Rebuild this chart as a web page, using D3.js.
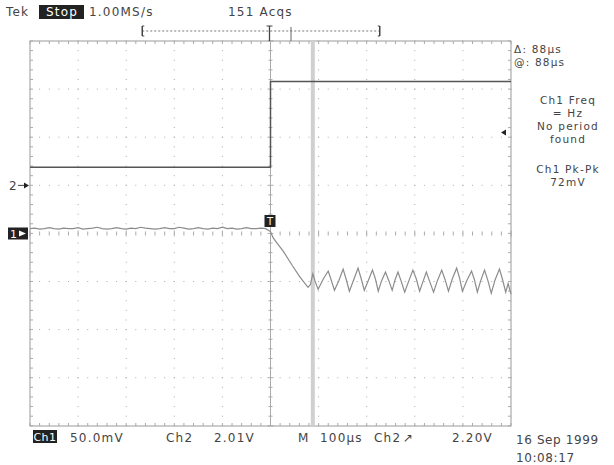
<!DOCTYPE html>
<html><head><meta charset="utf-8">
<script src="https://cdn.jsdelivr.net/npm/d3@7"></script>
<style>body{margin:0;background:#fff}svg{display:block}text{font-family:"DejaVu Sans",sans-serif;fill:#444;letter-spacing:1.2px}</style>
</head><body>
<script>
// ---- data ----
const timeRange = [-500, 500];            // µs, 100 µs/div
const ch1Range = [-200, 200];             // mV, 50 mV/div, ground at centre
const ch2Range = [-10, 6];                // V, 2 V/div, ground one div above centre
const ch1Time = [-500,-490,-480,-470,-460,-450,-440,-430,-420,-410,-400,-390,-380,-370,-360,-350,-340,-330,-320,-310,-300,-290,-280,-270,-260,-250,-240,-230,-220,-210,-200,-190,-180,-170,-160,-150,-140,-130,-120,-110,-100,-90,-80,-70,-60,-50,-40,-30,-20,-10,
  0,5,12,26,45,61,78,83,88,93,99,110,120,126,133,142,151,157,164,173,182,188,195,204,212,218,224,231,239,246,253,259,265,272,279,287,296,303,310,317,324,331,339,347,356,363,370,378,387,393,399,408,418,424,430,437,445,452,459,467,476,482,489,494,500];
const ch1mV = [5,5.5,4.5,5,6,5,4.5,5.5,5,5,6,4.5,5,5.5,6.5,5,4.5,5,6,5,4.5,5.5,5,6.5,5.5,5,4.5,5,6,5,5,6.5,5.5,4.5,5,6,5,4.5,5.5,5,6.5,5,5.5,4.5,5,6,5,5,5.5,5,
  2,-4,-9,-18,-33,-45,-56,-53,-42,-50,-58,-47,-39,-48,-59,-49,-37,-47,-60,-48,-36,-46,-59,-48,-38,-47,-60,-49,-40,-49,-59,-48,-40,-50,-61,-50,-38,-47,-60,-50,-40,-50,-61,-49,-38,-48,-60,-47,-36,-46,-60,-49,-39,-48,-61,-49,-38,-49,-62,-48,-37,-47,-61,-52,-63];
const ch2Time = [-500, 0, 0, 500];
const ch2Volts = [0.75, 0.75, 4.32, 4.32];
const cursorTimes = [0, 88];
const triggerLevel = 2.20;
const recordBracket = [-250, 250];
const topTexts = ["Tek", "Stop", "1.00MS/s", "151 Acqs"];
const rightTexts = ["Δ: 88µs", "@: 88µs", "Ch1 Freq", "= Hz", "No period", "found", "Ch1 Pk-Pk", "72mV"];
const bottomTexts = ["Ch1", "50.0mV", "Ch2", "2.01V", "M", "100µs", "Ch2", "↗", "2.20V"];
const dateTexts = ["16 Sep 1999", "10:08:17"];

// ---- drawing ----
const W = 614, H = 465;
const L = 30, R = 511, T = 41, B = 426;
const svg = d3.select("body").append("svg").attr("width", W).attr("height", H);
const x = d3.scaleLinear().domain(timeRange).range([L, R]);
const y1 = d3.scaleLinear().domain(ch1Range).range([B, T]);
const y2 = d3.scaleLinear().domain(ch2Range).range([B, T]);
const div = (R - L) / 10;
const minor = div / 5;

const g = svg.append("g");
const majX = d3.range(1, 10).filter(k => k !== 5).map(k => L + k * div);
const majY = d3.range(1, 8).filter(k => k !== 4).map(k => T + k * div);
const minXs = d3.range(0, 51).map(k => L + k * minor);
const minYs = d3.range(0, 41).map(k => T + k * minor);
majX.forEach(px => minYs.forEach(py => g.append("rect").attr("x", px - 0.5).attr("y", py - 0.5).attr("width", 1).attr("height", 1).attr("fill", "#aaa")));
majY.forEach(py => minXs.forEach(px => g.append("rect").attr("x", px - 0.5).attr("y", py - 0.5).attr("width", 1).attr("height", 1).attr("fill", "#aaa")));
const cx = x(0), cy = y1(0);
minXs.forEach((px, i) => g.append("line").attr("x1", px).attr("x2", px).attr("y1", cy - (i % 5 ? 2 : 3)).attr("y2", cy + (i % 5 ? 2 : 3)).attr("stroke", "#aaa"));
minYs.forEach((py, i) => g.append("line").attr("y1", py).attr("y2", py).attr("x1", cx - (i % 5 ? 2 : 3)).attr("x2", cx + (i % 5 ? 2 : 3)).attr("stroke", "#aaa"));
g.append("rect").attr("x", L).attr("y", T).attr("width", R - L).attr("height", B - T).attr("fill", "none").attr("stroke", "#999");
minXs.forEach(px => {
  g.append("line").attr("x1", px).attr("x2", px).attr("y1", T).attr("y2", T + 3).attr("stroke", "#aaa");
  g.append("line").attr("x1", px).attr("x2", px).attr("y1", B).attr("y2", B - 3).attr("stroke", "#aaa");
});
minYs.forEach(py => {
  g.append("line").attr("y1", py).attr("y2", py).attr("x1", L).attr("x2", L + 3).attr("stroke", "#aaa");
  g.append("line").attr("y1", py).attr("y2", py).attr("x1", R).attr("x2", R - 3).attr("stroke", "#aaa");
});

// cursors
svg.append("line").attr("x1", x(cursorTimes[1])).attr("x2", x(cursorTimes[1])).attr("y1", T).attr("y2", B).attr("stroke", "#d0d0d0").attr("stroke-width", 4);
svg.append("line").attr("x1", x(cursorTimes[0])).attr("x2", x(cursorTimes[0])).attr("y1", T).attr("y2", B).attr("stroke", "#aaa").attr("stroke-width", 1);

// traces
const ch1 = ch1Time.map((t, i) => [t, ch1mV[i]]);
svg.append("path").attr("d", d3.line().x(d => x(d[0])).y(d => y1(d[1]))(ch1)).attr("fill", "none").attr("stroke", "#8c8c8c").attr("stroke-width", 1.2);
const ch2 = ch2Time.map((t, i) => [t, ch2Volts[i]]);
svg.append("path").attr("d", d3.line().x(d => x(d[0])).y(d => y2(d[1]))(ch2)).attr("fill", "none").attr("stroke", "#555").attr("stroke-width", 1.5);

// trigger marker on ch1 trace
svg.append("rect").attr("x", x(0) - 6).attr("y", 215).attr("width", 11).attr("height", 12).attr("fill", "#222");
svg.append("text").attr("x", x(0) - 0.5).attr("y", 225).attr("text-anchor", "middle").attr("font-size", 10).style("letter-spacing", "0").style("fill", "#fff").text("T");

// channel ground markers
svg.append("rect").attr("x", 8).attr("y", y1(0) - 6).attr("width", 20).attr("height", 12).attr("fill", "#222");
svg.append("text").attr("x", 10).attr("y", y1(0) + 4.5).attr("font-size", 11).style("fill", "#fff").text("1");
svg.append("path").attr("d", `M${19},${y1(0) - 3}L${26},${y1(0)}L${19},${y1(0) + 3}Z`).attr("fill", "#fff");
svg.append("text").attr("x", 9).attr("y", y2(0) + 4.5).attr("font-size", 12).text("2");
svg.append("line").attr("x1", 18).attr("x2", 26).attr("y1", y2(0)).attr("y2", y2(0)).attr("stroke", "#444");
svg.append("path").attr("d", `M${24},${y2(0) - 3}L${29},${y2(0)}L${24},${y2(0) + 3}Z`).attr("fill", "#222");

// trigger level arrow
const ty = y2(triggerLevel);
svg.append("path").attr("d", `M${501},${ty}L${506},${ty - 3}L${506},${ty + 3}Z`).attr("fill", "#222");

// record bracket
const bx0 = x(recordBracket[0]) - 8, bx1 = x(recordBracket[1]) - 11;
const by = 31;
svg.append("line").attr("x1", bx0).attr("x2", bx1).attr("y1", by).attr("y2", by).attr("stroke", "#777").attr("stroke-dasharray", "2,2");
[bx0, bx1].forEach((bx, i) => {
  svg.append("line").attr("x1", bx).attr("x2", bx).attr("y1", by - 5).attr("y2", by + 5).attr("stroke", "#444").attr("stroke-width", 1.5);
  const d = i ? -2 : 2;
  svg.append("line").attr("x1", bx).attr("x2", bx + d).attr("y1", by - 5).attr("y2", by - 5).attr("stroke", "#444");
  svg.append("line").attr("x1", bx).attr("x2", bx + d).attr("y1", by + 5).attr("y2", by + 5).attr("stroke", "#444");
});
svg.append("line").attr("x1", x(0) - 1).attr("x2", x(0) - 1).attr("y1", by - 5).attr("y2", T).attr("stroke", "#444").attr("stroke-width", 1.3);
svg.append("line").attr("x1", x(0) - 4).attr("x2", x(0) + 2).attr("y1", by - 5).attr("y2", by - 5).attr("stroke", "#444");
svg.append("line").attr("x1", 291).attr("x2", 291).attr("y1", by - 4).attr("y2", T).attr("stroke", "#666");

// top texts
const fs = 12;
svg.append("text").attr("x", 6).attr("y", 16).attr("font-size", fs).text(topTexts[0]);
svg.append("rect").attr("x", 39).attr("y", 5).attr("width", 45).attr("height", 14).attr("fill", "#222");
svg.append("text").attr("x", 62).attr("y", 16).attr("text-anchor", "middle").attr("font-size", fs).style("fill", "#fff").text(topTexts[1]);
svg.append("text").attr("x", 89).attr("y", 16).attr("font-size", fs).text(topTexts[2]);
svg.append("text").attr("x", 228).attr("y", 16).attr("font-size", fs).text(topTexts[3]);

// right texts
const rfs = 10.5;
const rt = svg.append("g");
rt.append("text").attr("x", 514).attr("y", 53).attr("font-size", rfs).text(rightTexts[0]);
rt.append("text").attr("x", 514).attr("y", 66).attr("font-size", rfs).text(rightTexts[1]);
[[rightTexts[2], 104], [rightTexts[3], 117], [rightTexts[4], 130], [rightTexts[5], 143], [rightTexts[6], 173], [rightTexts[7], 186]]
  .forEach(([t, yy]) => rt.append("text").attr("x", 568).attr("y", yy).attr("text-anchor", "middle").attr("font-size", rfs).text(t));

// bottom texts
svg.append("rect").attr("x", 33).attr("y", 430).attr("width", 24).attr("height", 13).attr("fill", "#222");
svg.append("text").attr("x", 45).attr("y", 441).attr("text-anchor", "middle").attr("font-size", 11).style("letter-spacing", "0.5px").style("fill", "#fff").text(bottomTexts[0]);
const bpos = [null, 70, 166, 214, 298, 320, 374, 403, 452];
bottomTexts.forEach((t, i) => { if (i) svg.append("text").attr("x", bpos[i]).attr("y", 442).attr("font-size", fs).text(t); });
svg.append("text").attr("x", 516).attr("y", 444).attr("font-size", fs).style("letter-spacing", "0.6px").text(dateTexts[0]);
svg.append("text").attr("x", 516).attr("y", 462).attr("font-size", fs).style("letter-spacing", "0.6px").text(dateTexts[1]);
</script>
</body></html>
